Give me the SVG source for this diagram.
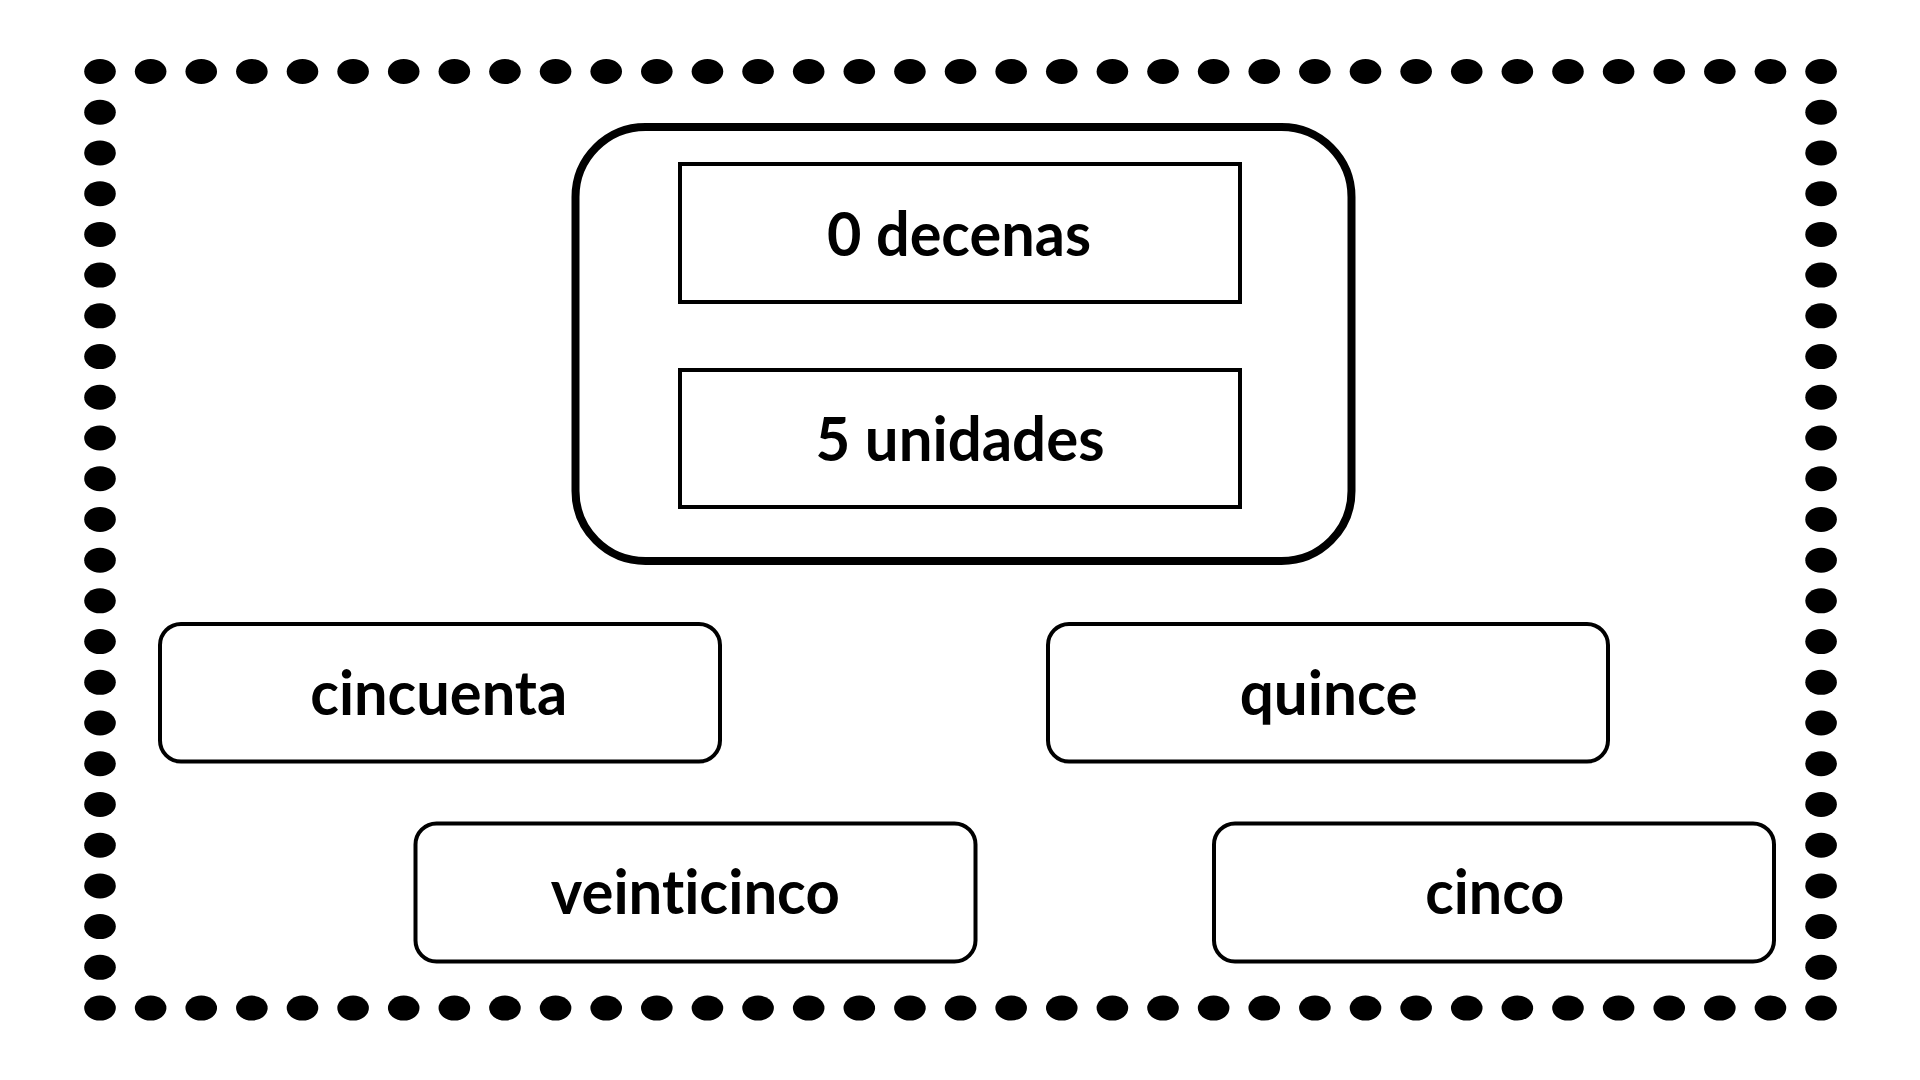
<svg xmlns="http://www.w3.org/2000/svg" xmlns:xlink="http://www.w3.org/1999/xlink" width="1920" height="1080" viewBox="0 0 1920 1080">
  <style>
    .t { font-family: Lato, "Open Sans", "Liberation Sans", sans-serif; font-weight: 700; font-size: 62px; text-anchor: middle; fill: #000; font-variant-ligatures: none; font-feature-settings: "liga" 0, "clig" 0; }
    .card { fill: #fff; stroke: #000; stroke-width: 4; }
    .inner { fill: #fff; stroke: #000; stroke-width: 4; }
    .outer { fill: #fff; stroke: #000; stroke-width: 8; }
    .dot { fill: #000; }
  </style>
  <defs>
    <ellipse id="d" class="dot" cx="0" cy="0" rx="15.8" ry="12.5"/>
    <g id="toprow">
      <use xlink:href="#d" href="#d" x="100" y="71.5"/>
      <use xlink:href="#d" href="#d" x="150.62" y="71.5"/>
      <use xlink:href="#d" href="#d" x="201.24" y="71.5"/>
      <use xlink:href="#d" href="#d" x="251.86" y="71.5"/>
      <use xlink:href="#d" href="#d" x="302.48" y="71.5"/>
      <use xlink:href="#d" href="#d" x="353.1" y="71.5"/>
      <use xlink:href="#d" href="#d" x="403.72" y="71.5"/>
      <use xlink:href="#d" href="#d" x="454.34" y="71.5"/>
      <use xlink:href="#d" href="#d" x="504.96" y="71.5"/>
      <use xlink:href="#d" href="#d" x="555.58" y="71.5"/>
      <use xlink:href="#d" href="#d" x="606.2" y="71.5"/>
      <use xlink:href="#d" href="#d" x="656.82" y="71.5"/>
      <use xlink:href="#d" href="#d" x="707.44" y="71.5"/>
      <use xlink:href="#d" href="#d" x="758.06" y="71.5"/>
      <use xlink:href="#d" href="#d" x="808.68" y="71.5"/>
      <use xlink:href="#d" href="#d" x="859.3" y="71.5"/>
      <use xlink:href="#d" href="#d" x="909.92" y="71.5"/>
      <use xlink:href="#d" href="#d" x="960.54" y="71.5"/>
      <use xlink:href="#d" href="#d" x="1011.16" y="71.5"/>
      <use xlink:href="#d" href="#d" x="1061.78" y="71.5"/>
      <use xlink:href="#d" href="#d" x="1112.4" y="71.5"/>
      <use xlink:href="#d" href="#d" x="1163.02" y="71.5"/>
      <use xlink:href="#d" href="#d" x="1213.64" y="71.5"/>
      <use xlink:href="#d" href="#d" x="1264.26" y="71.5"/>
      <use xlink:href="#d" href="#d" x="1314.88" y="71.5"/>
      <use xlink:href="#d" href="#d" x="1365.5" y="71.5"/>
      <use xlink:href="#d" href="#d" x="1416.12" y="71.5"/>
      <use xlink:href="#d" href="#d" x="1466.74" y="71.5"/>
      <use xlink:href="#d" href="#d" x="1517.36" y="71.5"/>
      <use xlink:href="#d" href="#d" x="1567.98" y="71.5"/>
      <use xlink:href="#d" href="#d" x="1618.6" y="71.5"/>
      <use xlink:href="#d" href="#d" x="1669.22" y="71.5"/>
      <use xlink:href="#d" href="#d" x="1719.84" y="71.5"/>
      <use xlink:href="#d" href="#d" x="1770.46" y="71.5"/>
      <use xlink:href="#d" href="#d" x="1821.08" y="71.5"/>
    </g>
    <g id="leftcol">
      <use xlink:href="#d" href="#d" x="100" y="112.22"/>
      <use xlink:href="#d" href="#d" x="100" y="152.94"/>
      <use xlink:href="#d" href="#d" x="100" y="193.66"/>
      <use xlink:href="#d" href="#d" x="100" y="234.38"/>
      <use xlink:href="#d" href="#d" x="100" y="275.1"/>
      <use xlink:href="#d" href="#d" x="100" y="315.82"/>
      <use xlink:href="#d" href="#d" x="100" y="356.54"/>
      <use xlink:href="#d" href="#d" x="100" y="397.26"/>
      <use xlink:href="#d" href="#d" x="100" y="437.98"/>
      <use xlink:href="#d" href="#d" x="100" y="478.7"/>
      <use xlink:href="#d" href="#d" x="100" y="519.42"/>
      <use xlink:href="#d" href="#d" x="100" y="560.14"/>
      <use xlink:href="#d" href="#d" x="100" y="600.86"/>
      <use xlink:href="#d" href="#d" x="100" y="641.58"/>
      <use xlink:href="#d" href="#d" x="100" y="682.3"/>
      <use xlink:href="#d" href="#d" x="100" y="723.02"/>
      <use xlink:href="#d" href="#d" x="100" y="763.74"/>
      <use xlink:href="#d" href="#d" x="100" y="804.46"/>
      <use xlink:href="#d" href="#d" x="100" y="845.18"/>
      <use xlink:href="#d" href="#d" x="100" y="885.9"/>
      <use xlink:href="#d" href="#d" x="100" y="926.62"/>
      <use xlink:href="#d" href="#d" x="100" y="967.34"/>
    </g>
  </defs>

  <rect x="0" y="0" width="1920" height="1080" fill="#fff"/>

  <g id="border">
    <use xlink:href="#toprow" href="#toprow"/>
    <use xlink:href="#toprow" href="#toprow" y="936.56"/>
    <use xlink:href="#leftcol" href="#leftcol"/>
    <use xlink:href="#leftcol" href="#leftcol" x="1721.08"/>
  </g>

  <g id="connectors"/>

  <g id="n-valor">
    <rect class="outer" x="575.5" y="127" width="776" height="434" rx="70" ry="70"/>
    <g id="n-decenas">
      <rect class="inner" x="680" y="164" width="560" height="138"/>
      <text class="t" x="959" y="256" textLength="264" lengthAdjust="spacingAndGlyphs">0 decenas</text>
    </g>
    <g id="n-unidades">
      <rect class="inner" x="680" y="370" width="560" height="137"/>
      <text class="t" x="960" y="461" textLength="289" lengthAdjust="spacingAndGlyphs">5 unidades</text>
    </g>
  </g>

  <g id="n-cincuenta">
    <rect class="card" x="160" y="624" width="560" height="137.5" rx="21" ry="21"/>
    <text class="t" x="438.7" y="715" textLength="257" lengthAdjust="spacingAndGlyphs">cincuenta</text>
  </g>

  <g id="n-quince">
    <rect class="card" x="1048" y="624" width="560" height="137.5" rx="21" ry="21"/>
    <text class="t" x="1328.7" y="715" textLength="178" lengthAdjust="spacingAndGlyphs">quince</text>
  </g>

  <g id="n-veinticinco">
    <rect class="card" x="415.5" y="823.5" width="560" height="138" rx="21" ry="21"/>
    <text class="t" x="695.3" y="914" textLength="289" lengthAdjust="spacingAndGlyphs">veinticinco</text>
  </g>

  <g id="n-cinco">
    <rect class="card" x="1214" y="823.5" width="560" height="138" rx="21" ry="21"/>
    <text class="t" x="1494.7" y="914" textLength="139" lengthAdjust="spacingAndGlyphs">cinco</text>
  </g>
</svg>
